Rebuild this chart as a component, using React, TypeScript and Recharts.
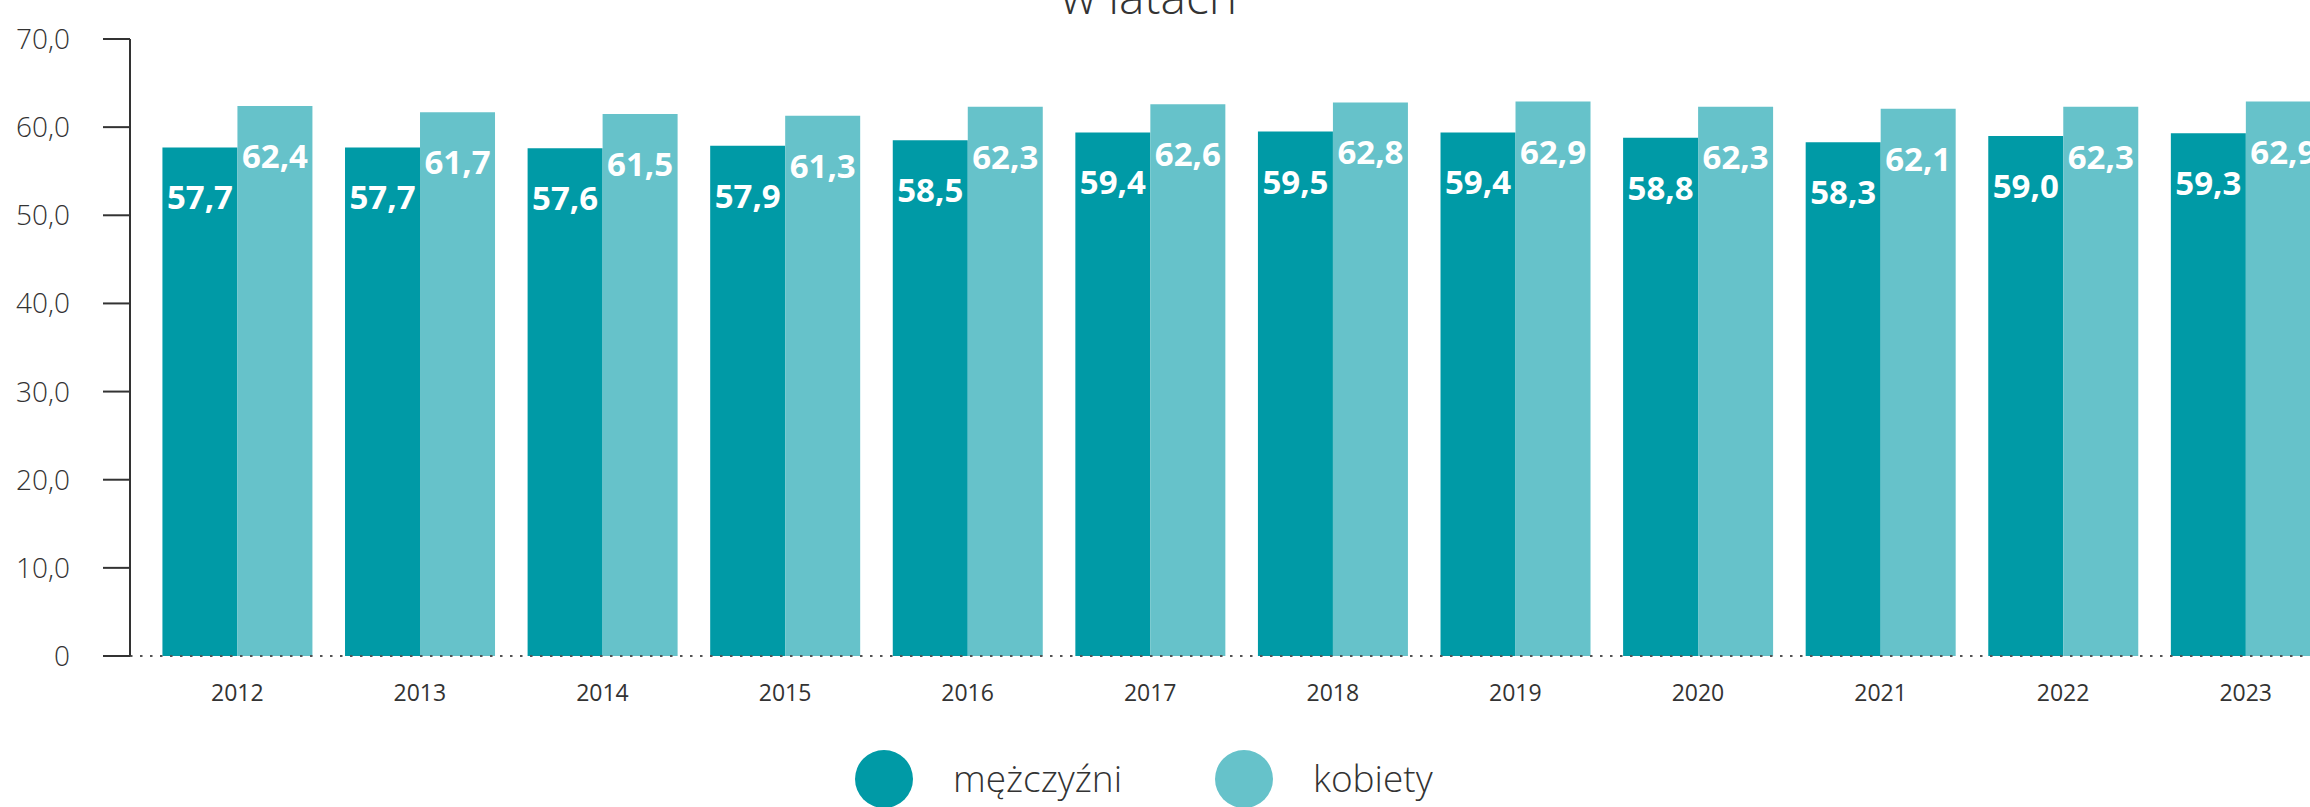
import React from 'react';
import { BarChart, Bar, XAxis, YAxis, ReferenceLine, LabelList } from 'recharts';

const years = ['2012', '2013', '2014', '2015', '2016', '2017', '2018', '2019', '2020', '2021', '2022', '2023'];
const men = [57.7, 57.7, 57.6, 57.9, 58.5, 59.4, 59.5, 59.4, 58.8, 58.3, 59.0, 59.3];
const women = [62.4, 61.7, 61.5, 61.3, 62.3, 62.6, 62.8, 62.9, 62.3, 62.1, 62.3, 62.9];
const yTicks = [0, 10, 20, 30, 40, 50, 60, 70];
const seriesNames = ['mężczyźni', 'kobiety'];
const colors = ['#009AA6', '#66C2CA'];
const titleText = 'w latach';

const data = years.map((y, i) => ({ year: y, men: men[i], women: women[i] }));

const FONT = '"Open Sans", sans-serif';
const fmt = (v: number) => (v === 0 ? '0' : v.toFixed(1).replace('.', ','));

const BarLabel = (props: any) => {
  const { x, y, width, value } = props;
  return (
    <text
      x={Number(x) + Number(width) / 2}
      y={Number(y) + 62}
      textAnchor="middle"
      fill="#ffffff"
      fontFamily={FONT}
      fontWeight={700}
      fontSize={33}
    >
      {fmt(Number(value))}
    </text>
  );
};

export default function App() {
  return (
    <div style={{ position: 'fixed', left: 0, top: 0, width: 2310, height: 807, overflow: 'hidden', background: '#fff' }}>
      <BarChart
        width={2353}
        height={807}
        data={data}
        margin={{ top: 39, right: 0, left: 0, bottom: 111 }}
        barCategoryGap="9%"
        barGap={0}
      >
        <YAxis
          width={130}
          domain={[0, 70]}
          ticks={yTicks}
          tickFormatter={fmt}
          axisLine={{ stroke: '#333', strokeWidth: 2 }}
          tickLine={{ stroke: '#333', strokeWidth: 2 }}
          tickSize={27}
          tickMargin={33}
          tick={{ fill: '#333', fontSize: 28, fontFamily: FONT, fontWeight: 300 }}
          interval={0}
        />
        <XAxis
          dataKey="year"
          height={40}
          padding={{ left: 16, right: 16 }}
          axisLine={false}
          tickLine={false}
          tickSize={0}
          tickMargin={29}
          tick={{ fill: '#333', fontSize: 23, fontFamily: FONT, fontWeight: 400 }}
          interval={0}
        />
        <Bar dataKey="men" name={seriesNames[0]} fill={colors[0]} isAnimationActive={false}>
          <LabelList dataKey="men" content={BarLabel} />
        </Bar>
        <Bar dataKey="women" name={seriesNames[1]} fill={colors[1]} isAnimationActive={false}>
          <LabelList dataKey="women" content={BarLabel} />
        </Bar>
        <ReferenceLine y={0} stroke="#555" strokeWidth={2} strokeDasharray="2.5 7.5" />
      </BarChart>
      <svg
        width={2310}
        height={807}
        style={{ position: 'absolute', left: 0, top: 0, pointerEvents: 'none' }}
      >
        <text x={1149} y={14} textAnchor="middle" fill="#333" fontFamily={FONT} fontWeight={300} fontSize={48}>
          {titleText}
        </text>
        <circle cx={884} cy={779} r={29} fill={colors[0]} />
        <text x={953} y={792} fill="#333" fontFamily={FONT} fontWeight={300} fontSize={37}>
          {seriesNames[0]}
        </text>
        <circle cx={1244} cy={779} r={29} fill={colors[1]} />
        <text x={1313} y={792} fill="#333" fontFamily={FONT} fontWeight={300} fontSize={37}>
          {seriesNames[1]}
        </text>
      </svg>
    </div>
  );
}
